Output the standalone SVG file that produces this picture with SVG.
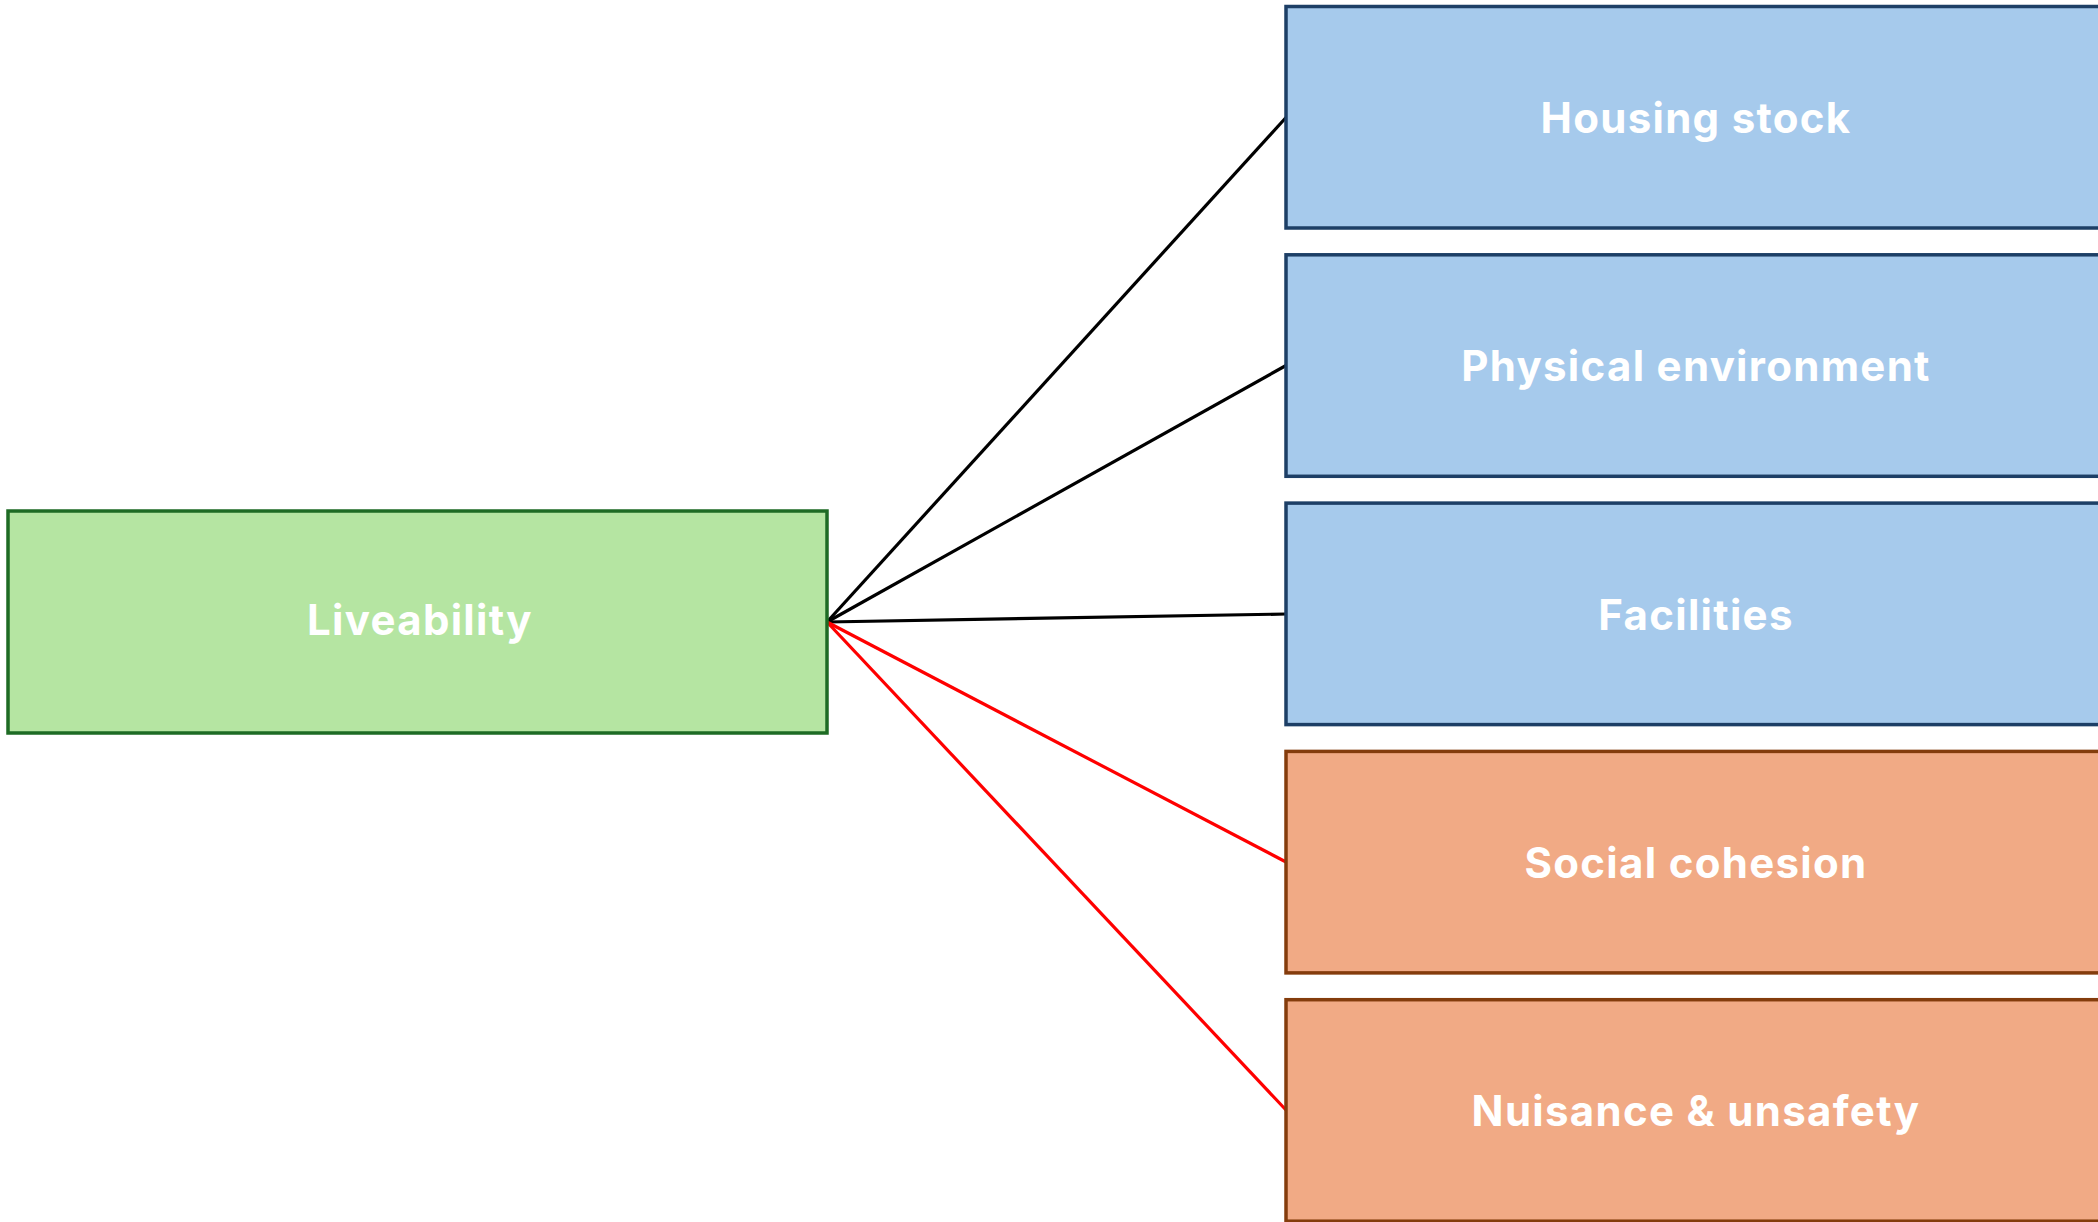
<svg xmlns="http://www.w3.org/2000/svg" width="2098" height="1222" viewBox="0 0 2098 1222">
<style>
.lbl{font-family:Inter,"Open Sans","DejaVu Sans",sans-serif;font-weight:700;font-size:42px;letter-spacing:1.3px;fill:#ffffff;text-anchor:middle}
.green{fill:#b5e5a2;stroke:#1e6b24;stroke-width:3.5}
.blue{fill:#a6caec;stroke:#1d3f66;stroke-width:3.5}
.orange{fill:#f1aa85;stroke:#843c0c;stroke-width:3.5}
.cb{stroke:#000000;stroke-width:3.2;fill:none}
.cr{stroke:#ff0000;stroke-width:3.2;fill:none}
</style>
<rect width="2098" height="1222" fill="#ffffff"/>
<g id="connectors">
<line class="cb" x1="827" y1="622" x2="1286" y2="117.5"/>
<line class="cb" x1="827" y1="622" x2="1286" y2="365.5"/>
<line class="cb" x1="827" y1="622" x2="1286" y2="614"/>
<line class="cr" x1="827" y1="622" x2="1286" y2="862"/>
<line class="cr" x1="827" y1="622" x2="1286" y2="1110"/>
</g>
<g id="liveability">
<rect class="green" x="8" y="511" width="819" height="222"/>
<text class="lbl" x="420" y="635">Liveability</text>
</g>
<g id="housing-stock">
<rect class="blue" x="1286" y="6.5" width="820" height="221.5"/>
<text class="lbl" x="1696" y="133">Housing stock</text>
</g>
<g id="physical-environment">
<rect class="blue" x="1286" y="254.8" width="820" height="221.5"/>
<text class="lbl" x="1696" y="381">Physical environment</text>
</g>
<g id="facilities">
<rect class="blue" x="1286" y="503.1" width="820" height="221.5"/>
<text class="lbl" x="1696" y="629.5">Facilities</text>
</g>
<g id="social-cohesion">
<rect class="orange" x="1286" y="751.4" width="820" height="221.5"/>
<text class="lbl" x="1696" y="877.5">Social cohesion</text>
</g>
<g id="nuisance-unsafety">
<rect class="orange" x="1286" y="999.7" width="820" height="221.5"/>
<text class="lbl" x="1696" y="1126">Nuisance &amp; unsafety</text>
</g>
</svg>
